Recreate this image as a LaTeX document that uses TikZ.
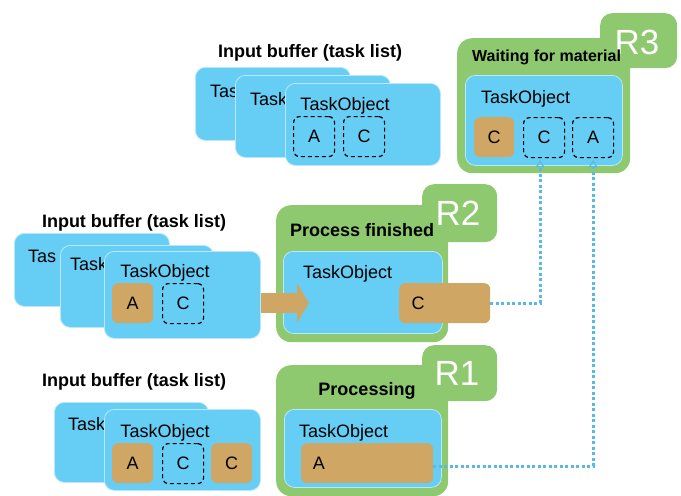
\documentclass[tikz,border=0pt]{standalone}
\usepackage{fontspec}
\setmainfont{Liberation Sans}
\usetikzlibrary{arrows.meta}
\definecolor{grn}{RGB}{142,201,111}
\definecolor{blu}{RGB}{102,205,245}
\definecolor{brn}{RGB}{207,166,99}
\definecolor{feedblue}{RGB}{90,185,228}
\newcommand{\fs}[1]{\fontsize{#1}{#1}\selectfont}

\begin{document}
\begin{tikzpicture}[x=1pt,y=-1pt,
  task/.style={draw=blu!45!white,line width=0.8pt,fill=blu,rounded corners=10pt,anchor=north west,inner sep=0pt},
  res/.style={fill=grn,rounded corners=15pt,anchor=north west,inner sep=0pt},
  mat/.style={fill=brn,rounded corners=6pt,anchor=north west,minimum width=41pt,minimum height=40pt,inner sep=0pt,font=\fs{18}},
  slot/.style={draw,dash pattern=on 4pt off 3pt,line width=1.2pt,rounded corners=6pt,anchor=north west,minimum width=41pt,minimum height=40pt,inner sep=0pt,font=\fs{18}},
  lbl/.style={font=\fs{18},inner sep=0pt},
  ttl/.style={font=\bfseries\fs{18},inner sep=0pt},
  rid/.style={font=\fs{35},text=white,inner sep=0pt},
  feed/.style={draw=feedblue,line width=3pt,dash pattern=on 3pt off 2.5pt,-{Triangle[open,width=9pt,length=7pt,line width=1.2pt]}}
]
\useasboundingbox (0,0) rectangle (681,496);

% top input buffer
\node[ttl] (tcap) at (310,53) {Input buffer (task list)};
\node[task,minimum width=155pt,minimum height=73pt] (tback) at (195,67) {};
\node[lbl,anchor=west] (tbackl) at (210,91) {Tas};
\node[task,minimum width=155pt,minimum height=82pt] (tmid) at (235,75) {};
\node[lbl,anchor=west] (tmidl) at (250,99) {Task};
\node[task,minimum width=155pt,minimum height=82pt] (tfront) at (285,83) {};
\node[lbl] (tfrontl) at (345,106) {TaskObject};
\node[slot] (ta) at (293,116) {A};
\node[slot] (tc) at (343,116) {C};

% middle input buffer
\node[ttl] (mcap) at (134,223) {Input buffer (task list)};
\node[task,minimum width=155pt,minimum height=73pt] (mback) at (14,233) {};
\node[lbl,anchor=west] (mbackl) at (28,256) {Tas};
\node[task,minimum width=153pt,minimum height=82pt] (mmid) at (60,245) {};
\node[lbl,anchor=west] (mmidl) at (70,264) {Task};
\node[task,minimum width=156pt,minimum height=87pt] (mfront) at (104,251) {};
\node[lbl] (mfrontl) at (165,273) {TaskObject};
\node[mat] (ma) at (112,283) {A};
\node[slot] (mc) at (162,283) {C};

% bottom input buffer
\node[ttl] (bcap) at (134,382) {Input buffer (task list)};
\node[task,minimum width=154pt,minimum height=80pt] (bback) at (54,402) {};
\node[lbl,anchor=west] (bbackl) at (68,424) {Task};
\node[task,minimum width=156pt,minimum height=81pt] (bfront) at (104,409) {};
\node[lbl] (bfrontl) at (165,433) {TaskObject};
\node[mat] (ba) at (112,443) {A};
\node[slot] (bc) at (162,443) {C};
\node[mat] (bc2) at (211,443) {C};

% R3
\node[res,minimum width=173pt,minimum height=135pt] (r3) at (457,38) {};
\node[res,minimum width=77pt,minimum height=55pt,rounded corners=12pt] (r3tab) at (600,13) {};
\node[rid] (r3id) at (637,42) {R3};
\node[ttl,anchor=west,font=\bfseries\fs{16}] (r3cap) at (472,57) {Waiting for material};
\node[task,minimum width=157pt,minimum height=90pt] (r3task) at (465,75) {};
\node[lbl,anchor=west] (r3taskl) at (481,99) {TaskObject};
\node[mat,minimum width=40pt] (r3c) at (474,117) {C};
\node[slot] (r3sc) at (523,117) {C};
\node[slot] (r3sa) at (572,117) {A};

% R2
\node[res,minimum width=172pt,minimum height=137pt] (r2) at (276,205) {};
\node[res,minimum width=75pt,minimum height=58pt,rounded corners=12pt] (r2tab) at (422,184) {};
\node[rid] (r2id) at (458,213) {R2};
\node[ttl,anchor=west] (r2cap) at (290,230) {Process finished};
\node[task,minimum width=159pt,minimum height=82pt] (r2task) at (283,251) {};
\node[lbl,anchor=west] (r2taskl) at (303,274) {TaskObject};
\node[mat,minimum width=91pt] (r2c) at (399,283) {};
\node[lbl] (r2cl) at (418,303) {C};

% R1
\node[res,minimum width=172pt,minimum height=131pt] (r1) at (276,365) {};
\node[res,minimum width=75pt,minimum height=56pt,rounded corners=12pt] (r1tab) at (422,345) {};
\node[rid] (r1id) at (457,373) {R1};
\node[ttl] (r1cap) at (367,391) {Processing};
\node[task,minimum width=157pt,minimum height=78pt] (r1task) at (284,409) {};
\node[lbl,anchor=west] (r1taskl) at (299,433) {TaskObject};
\node[mat,minimum width=132pt] (r1a) at (301,443) {};
\node[lbl] (r1al) at (319,463) {A};

% move into R2
\coordinate (tip) at (309,303);
\draw[brn,line width=20pt,-{Triangle[width=39pt,length=12pt]}] (mfront.east |- tip) -- (tip);

% material feedback
\draw[feed,shorten >=2pt] (r2c.east) -| ([xshift=-4pt]r3sc.south);
\draw[feed,shorten >=2pt] ([yshift=-3pt]r1a.east) -| (r3sa.south);
\end{tikzpicture}
\end{document}
